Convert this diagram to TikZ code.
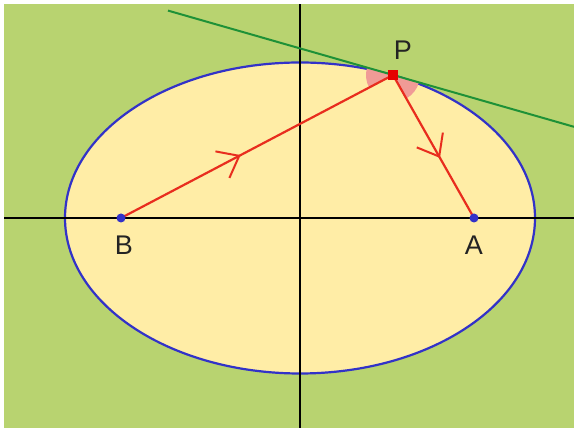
\documentclass[tikz,border=0pt]{standalone}
\usepackage{fontspec}
\setmainfont{Liberation Sans}
\usetikzlibrary{arrows.meta,decorations.markings,calc}
\definecolor{bggreen}{RGB}{184,211,112}
\definecolor{ellfill}{RGB}{255,237,166}
\definecolor{ellblue}{RGB}{50,50,200}
\definecolor{tangreen}{RGB}{30,145,55}
\definecolor{rayred}{RGB}{232,45,30}
\definecolor{wedgepink}{RGB}{240,155,150}
\definecolor{labelgray}{RGB}{35,35,35}
\tikzset{
  axis/.style={black,line width=2.2pt},
  ray/.style={rayred,line width=2.2pt},
  midarrow/.style={postaction={decorate},decoration={markings,
    mark=at position #1 with {\arrow{Straight Barb[length=19pt,width=30pt,line width=2pt]}}}},
  lbl/.style={text=labelgray,font=\fontsize{27}{27}\selectfont,inner sep=0pt},
  focus/.style={circle,fill=ellblue,inner sep=0pt,minimum size=9pt}
}
\begin{document}
\begin{tikzpicture}[x=1pt,y=1pt]
\useasboundingbox (0,0) rectangle (574,428);
\fill[white] (0,0) rectangle (574,428);
\fill[bggreen] (4,0) rectangle (574,424);
\coordinate (O) at (300,210);
\coordinate (B) at (121,210);
\coordinate (A) at (474,210);
\coordinate (P) at (393,353);
\coordinate (T1) at (168,417.4);
\coordinate (T2) at (574,301.2);
\coordinate (XL) at (4,210);
\coordinate (XR) at (574,210);
\coordinate (YT) at (300,424);
\coordinate (YB) at (300,0);
% ellipse
\filldraw[fill=ellfill,draw=ellblue,line width=2.2pt] (O) ellipse [x radius=235pt,y radius=155.5pt];
% axes
\draw[axis] (XL) -- (XR);
\draw[axis] (YB) -- (YT);
% angle wedges
\fill[wedgepink] (P) -- ($(P)!27pt!(T1)$) arc[start angle=164,end angle=207.7,radius=27pt] -- cycle;
\fill[wedgepink] (P) -- ($(P)!27pt!(A)$) arc[start angle=-60.5,end angle=-16,radius=27pt] -- cycle;
% tangent
\draw[tangreen,line width=2pt] (T1) -- (T2);
% rays
\draw[ray,midarrow=0.44] (B) -- (P);
\draw[ray,midarrow=0.58] (P) -- (A);
\fill[red!90!black] ($(P)+(-5,-5)$) rectangle ($(P)+(5,4.5)$);
% foci
\node[focus] (Bd) at (B) {};
\node[focus] (Ad) at (A) {};
% labels
\node[lbl] (Pl) at (403,378) {P};
\node[lbl] (Bl) at (124,183) {B};
\node[lbl] (Al) at (474,183) {A};
\end{tikzpicture}
\end{document}
